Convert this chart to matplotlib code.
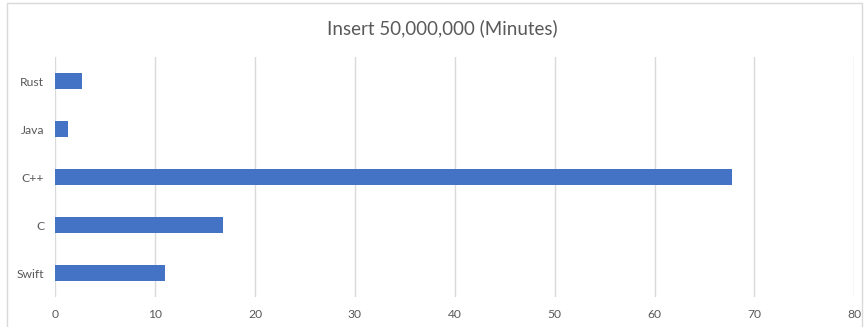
import matplotlib.pyplot as plt
from matplotlib.patches import Rectangle

plt.rcParams['font.family'] = ['Lato', 'DejaVu Sans']

langs = ['Rust', 'Java', 'C++', 'C', 'Swift']
minutes = [2.7, 1.3, 67.8, 16.8, 11.0]
xticks = [0, 10, 20, 30, 40, 50, 60, 70, 80]

txt = '#595959'
grid = '#D9D9D9'

fig = plt.figure(figsize=(8.65, 3.27), dpi=100)
ax = fig.add_axes([55.3 / 865, 1 - 297 / 327, 799 / 865, 240 / 327])

ypos = list(range(len(langs)))[::-1]
ax.barh(ypos, minutes, height=0.35, color='#4472C4', zorder=3)

ax.set_xlim(0, 80)
ax.set_ylim(-0.5, len(langs) - 0.5)
ax.set_xticks(xticks)
ax.set_yticks(ypos)
ax.set_yticklabels(langs)
ax.grid(axis='x', color=grid, linewidth=1, zorder=0)
ax.grid(axis='y', visible=False)
for s in ax.spines.values():
    s.set_visible(False)
ax.tick_params(axis='both', length=0, colors=txt, labelsize=8.7)
ax.tick_params(axis='y', pad=8)
ax.tick_params(axis='x', pad=9)

fig.text(442 / 865, 1 - 28 / 327, 'Insert 50,000,000 (Minutes)', ha='center', va='center',
         fontsize=13.5, color=txt)

# chart area border
fig.patches.append(Rectangle((7 / 865, -0.01), 855 / 865, 1 - 3 / 327 + 0.01,
                             transform=fig.transFigure, fill=False,
                             edgecolor=grid, linewidth=1))

fig.savefig('out.png', dpi=100, facecolor='white')
